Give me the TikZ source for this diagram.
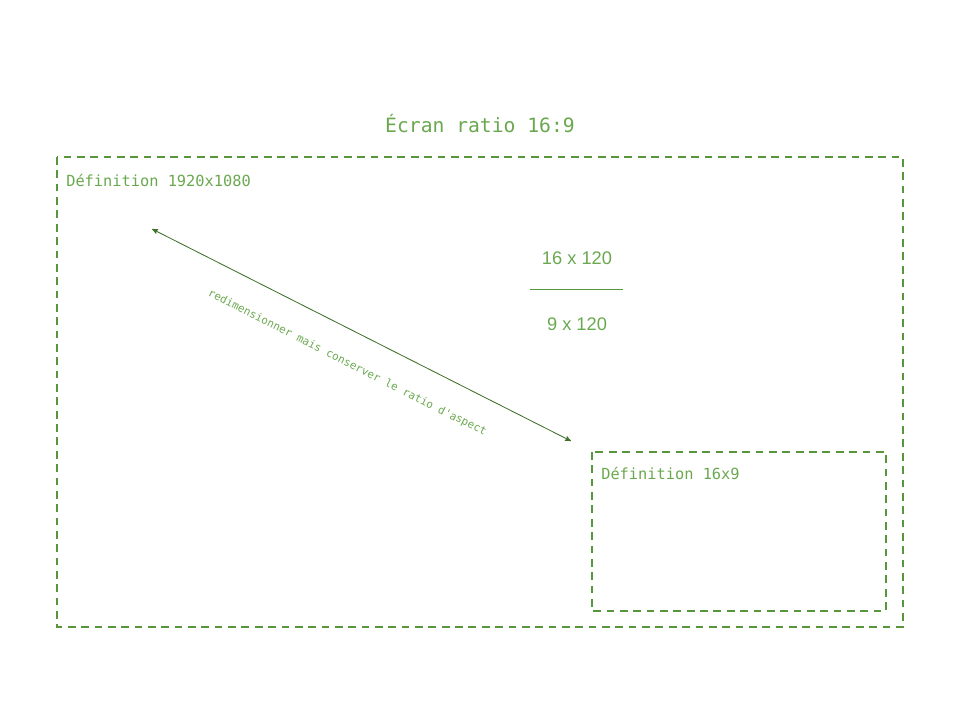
\documentclass[tikz,border=0pt]{standalone}
\usepackage{fontspec}
\setmainfont{Liberation Sans}
\setmonofont{DejaVu Sans Mono}
\usetikzlibrary{arrows,positioning}

\definecolor{leaf}{RGB}{106,168,79}
\definecolor{frame}{RGB}{88,150,60}
\definecolor{stem}{RGB}{62,112,42}

\tikzset{
  screen/.style={draw=frame, line width=1.4pt, dash pattern=on 5.5pt off 4pt},
  tag/.style={text=leaf, font=\ttfamily\fontsize{10.9}{12}\selectfont, anchor=west, inner sep=0pt},
  ratio/.style={text=leaf, font=\fontsize{13}{15}\selectfont}
}

\begin{document}
\begin{tikzpicture}[x=0.25mm, y=-0.25mm, >=stealth']
  \useasboundingbox (0,0) rectangle (960,720);
  \node[text=leaf, font=\ttfamily\fontsize{14}{16}\selectfont] (title) at (480,124) {Écran ratio 16:9};
  \draw[screen] (57,157) rectangle (903,627);
  \node[tag] (full) at (66,180) {Définition 1920x1080};
  \draw[screen, line width=1.2pt] (592,452) rectangle (886,611);
  \node[tag] (small) at (601,473) {Définition 16x9};
  \node[ratio] (num) at (577,258) {16 x 120};
  \node[ratio] (den) at (577,324) {9 x 120};
  \coordinate (barl) at (530,289);
  \coordinate (barr) at (623,289);
  \draw[frame, line width=0.6pt] (barl) -- (barr);
  \coordinate (src) at (152,229);
  \coordinate (dst) at (571,441);
  \draw[<->, stem, line width=0.6pt] (src) -- node[sloped, below=15pt, text=leaf,
    font=\ttfamily\fontsize{7.8}{9}\selectfont] {redimensionner mais conserver le ratio d'aspect} (dst);
\end{tikzpicture}
\end{document}
